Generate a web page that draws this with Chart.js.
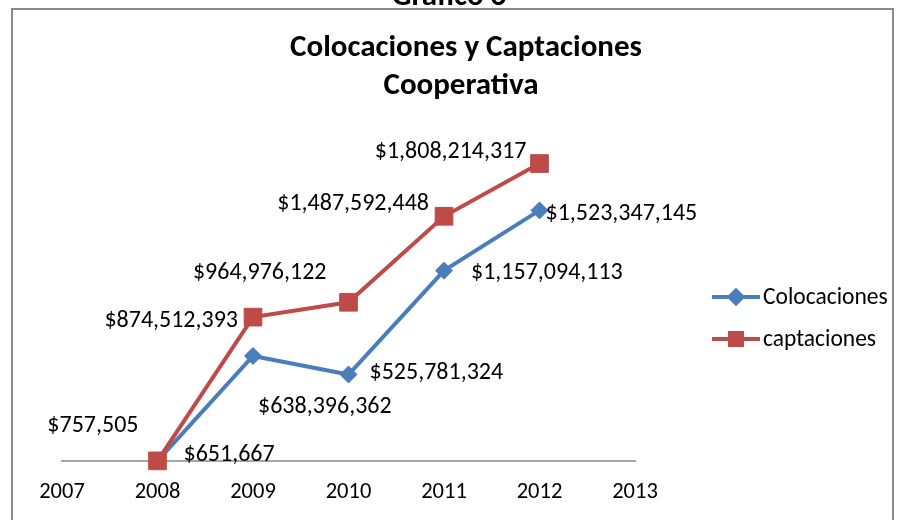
<!DOCTYPE html>
<html>
<head>
<meta charset="utf-8">
<script src="https://cdn.jsdelivr.net/npm/chart.js@4.4.1/dist/chart.umd.min.js"></script>
<style>
  html, body { margin: 0; padding: 0; background: #fff; }
  #wrap { position: relative; width: 899px; height: 520px; }
</style>
</head>
<body>
<div id="wrap"><canvas id="grafico" width="899" height="520"></canvas></div>
<script>
// años del eje x
const anios = ['2007', '2008', '2009', '2010', '2011', '2012', '2013'];
// saldos por año (sin dato en 2007 ni 2013)
const colocaciones = [null, 651667, 638396362, 525781324, 1157094113, 1523347145, null];
const captaciones = [null, 757505, 874512393, 964976122, 1487592448, 1808214317, null];

// desplazamiento de cada etiqueta respecto al punto (dx, dy, alineación)
const posColocaciones = [null, [26, -6, 'left'], [5, 51, 'left'], [21, -2, 'left'], [27, 2, 'left'], [6, 4, 'left'], null];
const posCaptaciones = [null, [-19, -35, 'right'], [-15, 4, 'right'], [-22, -29, 'right'], [-15, -12, 'right'], [-13, -12, 'right'], null];

const AZUL = '#4A7EBB';
const ROJO = '#BE4B48';
const FUENTE = "Carlito, Calibri, 'Open Sans', sans-serif";

function formatoPeso(v) {
  return '$' + Math.round(v).toLocaleString('en-US');
}

// marco, título, leyenda y etiquetas de valores
const extras = {
  id: 'extras',
  beforeDraw(chart) {
    const ctx = chart.ctx;
    ctx.save();
    ctx.fillStyle = '#fff';
    ctx.fillRect(0, 0, chart.width, chart.height);
    // texto cortado sobre el marco
    ctx.fillStyle = '#000';
    ctx.font = 'bold 31px ' + FUENTE;
    ctx.textAlign = 'center';
    ctx.textBaseline = 'alphabetic';
    ctx.fillText('Gráfico 6', 449, 5);
    ctx.strokeStyle = '#8a8a8a';
    ctx.lineWidth = 2;
    ctx.strokeRect(12, 9, 881, 530);
    // título
    ctx.textBaseline = 'middle';
    ctx.fillText('Colocaciones y Captaciones', 466, 48);
    ctx.fillText('Cooperativa', 461, 86);
    ctx.restore();
  },
  afterDatasetsDraw(chart) {
    const ctx = chart.ctx;
    ctx.save();
    ctx.font = '24px ' + FUENTE;
    ctx.fillStyle = '#000';
    ctx.textBaseline = 'middle';
    const conjuntos = [[0, colocaciones, posColocaciones], [1, captaciones, posCaptaciones]];
    conjuntos.forEach(([idx, valores, pos]) => {
      const meta = chart.getDatasetMeta(idx);
      meta.data.forEach((pt, i) => {
        if (valores[i] == null || !pos[i]) return;
        const [dx, dy, al] = pos[i];
        ctx.textAlign = al;
        ctx.fillText(formatoPeso(valores[i]), pt.x + dx, pt.y + dy);
      });
    });

    // leyenda a la derecha
    const items = [
      { texto: 'Colocaciones', color: AZUL, estilo: 'rectRot', r: 6.5, y: 297 },
      { texto: 'captaciones', color: ROJO, estilo: 'rect', r: 8.5, y: 339 }
    ];
    ctx.font = '23.5px ' + FUENTE;
    items.forEach(it => {
      ctx.strokeStyle = it.color;
      ctx.lineWidth = 4;
      ctx.beginPath();
      ctx.moveTo(712, it.y);
      ctx.lineTo(760, it.y);
      ctx.stroke();
      ctx.fillStyle = it.color;
      Chart.helpers.drawPoint(ctx, { pointStyle: it.estilo, radius: it.r, rotation: 0, borderWidth: 1 }, 736, it.y);
      ctx.fill();
      ctx.fillStyle = '#000';
      ctx.textAlign = 'left';
      ctx.fillText(it.texto, 763, it.y + 1);
    });
    ctx.restore();
  }
};

new Chart(document.getElementById('grafico'), {
  type: 'line',
  data: {
    labels: anios,
    datasets: [
      {
        label: 'Colocaciones',
        data: colocaciones,
        borderColor: AZUL,
        backgroundColor: AZUL,
        borderWidth: 4,
        pointStyle: 'rectRot',
        pointRadius: 8.5,
        pointBorderWidth: 1,
        tension: 0,
        spanGaps: false,
        clip: false,
        order: 1
      },
      {
        label: 'captaciones',
        data: captaciones,
        borderColor: ROJO,
        backgroundColor: ROJO,
        borderWidth: 4,
        pointStyle: 'rect',
        pointRadius: 12.5,
        pointBorderWidth: 1,
        tension: 0,
        spanGaps: false,
        clip: false,
        order: 0
      }
    ]
  },
  options: {
    responsive: false,
    animation: false,
    devicePixelRatio: 1,
    layout: { padding: { top: 132, left: 62, right: 264, bottom: 14 } },
    plugins: {
      legend: { display: false },
      tooltip: { enabled: false },
      title: { display: false }
    },
    scales: {
      x: {
        offset: false,
        grid: { display: false, drawTicks: false },
        border: { display: true, color: '#a6a6a6', width: 2 },
        ticks: { color: '#000', font: { family: FUENTE, size: 22.5 }, padding: 18, maxRotation: 0, autoSkip: false },
        afterFit(scale) { scale.height = 45; }
      },
      y: {
        display: false,
        min: 0,
        max: 2000000000
      }
    }
  },
  plugins: [extras]
});
</script>
</body>
</html>
